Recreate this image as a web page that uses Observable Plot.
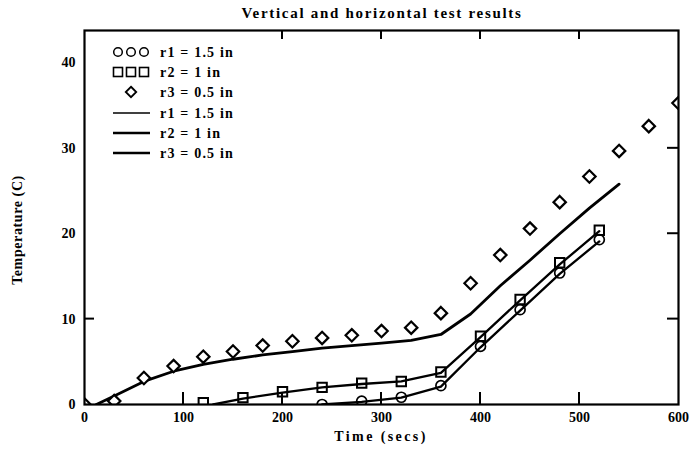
<!DOCTYPE html>
<html>
<head>
<meta charset="utf-8">
<script src="https://cdn.jsdelivr.net/npm/d3@7"></script>
<script src="https://cdn.jsdelivr.net/npm/@observablehq/plot@0.6"></script>
<style>
  html, body { margin: 0; padding: 0; background: #fff; }
  svg text { font-family: "Liberation Serif", "Times New Roman", serif; }
</style>
</head>
<body>
<div id="chart"></div>
<script>
// ---- Data ----
const r1MarkX = [240, 280, 320, 360, 400, 440, 480, 520];
const r1MarkY = [0.0, 0.4, 0.85, 2.2, 6.8, 11.1, 15.4, 19.3];

const r2MarkX = [120, 160, 200, 240, 280, 320, 360, 400, 440, 480, 520];
const r2MarkY = [0.2, 0.8, 1.5, 2.0, 2.5, 2.7, 3.8, 8.0, 12.3, 16.6, 20.4];

const r3MarkX = [0, 30, 60, 90, 120, 150, 180, 210, 240, 270, 300, 330, 360, 390, 420, 450, 480, 510, 540, 570, 600];
const r3MarkY = [0.0, 0.4, 3.1, 4.5, 5.6, 6.2, 6.9, 7.4, 7.8, 8.1, 8.6, 9.0, 10.7, 14.2, 17.5, 20.6, 23.7, 26.7, 29.7, 32.6, 35.3];

const r1LineX = [240, 280, 320, 360, 400, 440, 480, 520];
const r1LineY = [0.0, 0.3, 0.8, 2.1, 6.7, 11.0, 15.3, 19.1];

const r2LineX = [130, 160, 200, 240, 280, 320, 360, 400, 440, 480, 520];
const r2LineY = [0.0, 0.7, 1.4, 2.0, 2.4, 2.7, 3.7, 7.9, 12.2, 16.4, 20.3];

const r3LineX = [12, 30, 60, 90, 120, 150, 180, 210, 240, 270, 300, 330, 360, 390, 420, 450, 480, 510, 540];
const r3LineY = [0.0, 1.0, 2.7, 3.9, 4.7, 5.3, 5.8, 6.2, 6.6, 6.9, 7.2, 7.5, 8.2, 10.6, 13.9, 16.9, 20.0, 23.0, 25.8];

const xTicks = [0, 100, 200, 300, 400, 500, 600];
const yTicks = [0, 10, 20, 30, 40];
const topTicks = [200, 300, 400, 500];
const bottomTicks = [100, 200, 300, 400, 500];
const leftTicks = [10];
const rightTicks = [10, 20, 30];

const legendLabels = ["r1 = 1.5 in", "r2 = 1 in", "r3 = 0.5 in", "r1 = 1.5 in", "r2 = 1 in", "r3 = 0.5 in"];
const titleText = "Vertical and horizontal test results";
const xLabel = "Time (secs)";
const yLabel = "Temperature (C)";

const zip = (xs, ys) => xs.map((x, i) => ({x, y: ys[i]}));
const r1M = zip(r1MarkX, r1MarkY), r2M = zip(r2MarkX, r2MarkY), r3M = zip(r3MarkX, r3MarkY);
const r1L = zip(r1LineX, r1LineY), r2L = zip(r2LineX, r2LineY), r3L = zip(r3LineX, r3LineY);

const W = 694, H = 452;
const mL = 84, mR = 16, mT = 30, mB = 48;
const xDom = [0, 600], yDom = [0, 43.8];

const chart = Plot.plot({
  width: W,
  height: H,
  marginLeft: mL,
  marginRight: mR,
  marginTop: mT,
  marginBottom: mB,
  style: {fontFamily: "Liberation Serif", fontSize: "14px", background: "#fff", color: "#000"},
  x: {domain: xDom},
  y: {domain: yDom},
  marks: [
    // tick labels
    Plot.axisX({anchor: "bottom", ticks: xTicks, tickSize: 0, tickPadding: 8, fontWeight: "bold", fontSize: 14, label: null}),
    Plot.axisY({anchor: "left", ticks: yTicks, tickSize: 0, tickPadding: 9, fontWeight: "bold", fontSize: 14, label: null}),
    // model lines
    Plot.line(r3L, {x: "x", y: "y", stroke: "#000", strokeWidth: 2.8, clip: true}),
    Plot.line(r2L, {x: "x", y: "y", stroke: "#000", strokeWidth: 2.3, clip: true}),
    Plot.line(r1L, {x: "x", y: "y", stroke: "#000", strokeWidth: 2.3, clip: true}),
    // measured points
    Plot.dot(r3M, {x: "x", y: "y", symbol: "diamond2", r: 5.6, stroke: "#000", strokeWidth: 2.2, fill: "#fff", clip: true}),
    Plot.dot(r2M, {x: "x", y: "y", symbol: "square", r: 5.3, stroke: "#000", strokeWidth: 2, fill: "none", clip: true}),
    Plot.dot(r1M, {x: "x", y: "y", symbol: "circle", r: 5, stroke: "#000", strokeWidth: 1.7, fill: "none", clip: true}),
    Plot.frame({stroke: "#000", strokeWidth: 2.2})
  ]
});

document.getElementById("chart").appendChild(chart);

const svg = d3.select(chart);
const sx = chart.scale("x"), sy = chart.scale("y");
const X = v => sx.apply(v), Y = v => sy.apply(v);

// Inward tick marks through Plot's scales
const tk = svg.append("g").attr("stroke", "#000").attr("stroke-width", 2);
bottomTicks.forEach(v => tk.append("line").attr("x1", X(v)).attr("x2", X(v)).attr("y1", Y(yDom[0])).attr("y2", Y(yDom[0]) - 12));
topTicks.forEach(v => tk.append("line").attr("x1", X(v)).attr("x2", X(v)).attr("y1", Y(yDom[1])).attr("y2", Y(yDom[1]) + 9));
leftTicks.forEach(v => tk.append("line").attr("y1", Y(v)).attr("y2", Y(v)).attr("x1", X(xDom[0])).attr("x2", X(xDom[0]) + 10));
rightTicks.forEach(v => tk.append("line").attr("y1", Y(v)).attr("y2", Y(v)).attr("x1", X(xDom[1])).attr("x2", X(xDom[1]) - 11));

// Title, axis labels and legend
const g = svg.append("g").attr("font-family", "Liberation Serif").attr("fill", "#000");
g.append("text").attr("x", 382).attr("y", 18).attr("text-anchor", "middle")
  .attr("font-size", 15).attr("font-weight", "bold").attr("letter-spacing", 1.7).text(titleText);
g.append("text").attr("x", 381).attr("y", 441).attr("text-anchor", "middle")
  .attr("font-size", 14).attr("font-weight", "bold").attr("letter-spacing", 2.4).text(xLabel);
g.append("text").attr("transform", "translate(22,230) rotate(-90)").attr("text-anchor", "middle")
  .attr("font-size", 14).attr("font-weight", "bold").attr("letter-spacing", 0.6).text(yLabel);

const rows = [52, 72, 92, 113, 133, 153];
const lg = svg.append("g");
[118, 131, 144].forEach(cx => {
  lg.append("circle").attr("cx", cx).attr("cy", rows[0]).attr("r", 4.3)
    .attr("fill", "none").attr("stroke", "#000").attr("stroke-width", 1.5);
  lg.append("rect").attr("x", cx - 4.5).attr("y", rows[1] - 4.5).attr("width", 9).attr("height", 9)
    .attr("fill", "none").attr("stroke", "#000").attr("stroke-width", 1.6);
});
lg.append("path").attr("d", d3.symbol(d3.symbolDiamond2, 70)()).attr("transform", `translate(131,${rows[2]})`)
  .attr("fill", "none").attr("stroke", "#000").attr("stroke-width", 1.8);
[3, 4, 5].forEach(i => {
  lg.append("line").attr("x1", 113).attr("x2", 150).attr("y1", rows[i]).attr("y2", rows[i])
    .attr("stroke", "#000").attr("stroke-width", i === 3 ? 1.6 : 2.5);
});
legendLabels.forEach((t, i) => {
  lg.append("text").attr("x", 160).attr("y", rows[i] + 5).attr("text-anchor", "start")
    .attr("font-family", "Liberation Serif").attr("font-size", 14).attr("font-weight", "bold")
    .attr("letter-spacing", 1.2).text(t);
});
</script>
</body>
</html>
